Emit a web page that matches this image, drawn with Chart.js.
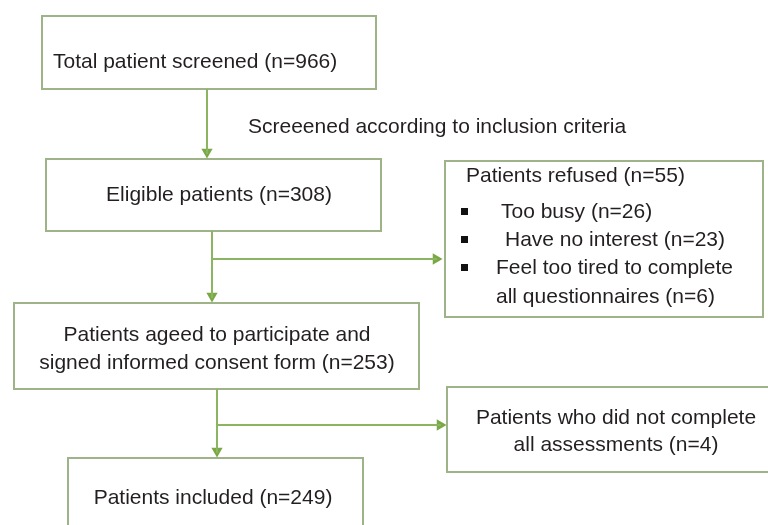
<!DOCTYPE html>
<html>
<head>
<meta charset="utf-8">
<script src="https://cdn.jsdelivr.net/npm/chart.js@4/dist/chart.umd.min.js"></script>
<style>
  html, body { margin: 0; padding: 0; background: #ffffff; }
  canvas { display: block; }
</style>
</head>
<body>
<canvas id="flow" width="768" height="525"></canvas>
<script>
// --- flow data ---------------------------------------------------------
var stageNames = ["Total patient screened", "Eligible patients",
                  "Patients ageed to participate and signed informed consent form",
                  "Patients included"];
var stageCounts = [966, 308, 253, 249];
var refusedCount = 55;
var refusalReasons = ["Too busy", "Have no interest", "Feel too tired to complete all questionnaires"];
var refusalCounts = [26, 23, 6];
var dropoutCount = 4;
var screenNote = "Screeened according to inclusion criteria";

// --- layout (flowchart units, same as the canvas grid) -----------------
var boxes = {
    total:    {l: 42,  t: 16,  r: 376, b: 89},
    eligible: {l: 46,  t: 159, r: 381, b: 231},
    agreed:   {l: 14,  t: 303, r: 419, b: 389},
    included: {l: 68,  t: 458, r: 363, b: 545},
    refused:  {l: 445, t: 161, r: 763, b: 317},
    dropout:  {l: 447, t: 387, r: 780, b: 472}
};

var LINE_COLOR = "#8cb562";
var BOX_COLOR = "#9fb389";
var HEAD_COLOR = "#79a845";
var TEXT_COLOR = "#231f20";
var FONT = "21px 'Liberation Sans', Arial, sans-serif";

function connector(points) {
    return {
        type: "scatter",
        data: points,
        showLine: true,
        borderColor: LINE_COLOR,
        borderWidth: 2,
        pointRadius: 0,
        fill: false
    };
}

function heads(points, rotation) {
    return {
        type: "scatter",
        data: points,
        showLine: false,
        pointStyle: "triangle",
        rotation: rotation,
        pointRadius: 6.5,
        backgroundColor: HEAD_COLOR,
        borderColor: HEAD_COLOR,
        borderWidth: 0
    };
}

var datasets = [
    connector([{x: 207, y: 89}, {x: 207, y: 154}]),
    connector([{x: 212, y: 231}, {x: 212, y: 298}]),
    connector([{x: 212, y: 259}, {x: 437, y: 259}]),
    connector([{x: 217, y: 389}, {x: 217, y: 453}]),
    connector([{x: 217, y: 425}, {x: 441, y: 425}]),
    heads([{x: 207, y: 152}, {x: 212, y: 296}, {x: 217, y: 451}], 180),
    heads([{x: 436, y: 259}, {x: 440, y: 425}], 90)
];

// draws the boxes + their texts on top of the library scales
var flowBoxes = {
    id: "flowBoxes",
    beforeDatasetsDraw: function(chart) {
        var ctx = chart.ctx;
        var sx = chart.scales.x, sy = chart.scales.y;
        var px = function(v) { return sx.getPixelForValue(v); };
        var py = function(v) { return sy.getPixelForValue(v); };

        ctx.save();
        ctx.strokeStyle = BOX_COLOR;
        ctx.lineWidth = 2;
        Object.keys(boxes).forEach(function(k) {
            var b = boxes[k];
            ctx.strokeRect(px(b.l), py(b.t), px(b.r) - px(b.l), py(b.b) - py(b.t));
        });

        ctx.fillStyle = TEXT_COLOR;
        ctx.font = FONT;
        ctx.textBaseline = "middle";

        ctx.textAlign = "left";
        ctx.fillText(stageNames[0] + " (n=" + stageCounts[0] + ")", px(53), py(62));
        ctx.fillText(screenNote, px(248), py(127));

        ctx.textAlign = "center";
        ctx.fillText(stageNames[1] + " (n=" + stageCounts[1] + ")", px(219), py(195));
        ctx.fillText("Patients ageed to participate and", px(217), py(335));
        ctx.fillText("signed informed consent form (n=" + stageCounts[2] + ")", px(217), py(363));
        ctx.fillText(stageNames[3] + " (n=" + stageCounts[3] + ")", px(213), py(498));
        ctx.fillText("Patients who did not complete", px(616), py(418));
        ctx.fillText("all assessments (n=" + dropoutCount + ")", px(616), py(445));

        // refused box: title + bullet list
        ctx.textAlign = "left";
        ctx.fillText("Patients refused (n=" + refusedCount + ")", px(466), py(176));
        var bulletY = [212, 240, 268];
        var textX = [501, 505, 496];
        ctx.fillText(refusalReasons[0] + " (n=" + refusalCounts[0] + ")", px(textX[0]), py(bulletY[0]));
        ctx.fillText(refusalReasons[1] + " (n=" + refusalCounts[1] + ")", px(textX[1]), py(bulletY[1]));
        ctx.fillText("Feel too tired to complete", px(textX[2]), py(bulletY[2]));
        ctx.fillText("all questionnaires (n=" + refusalCounts[2] + ")", px(textX[2]), py(297));
        ctx.fillStyle = "#111111";
        bulletY.forEach(function(v) {
            ctx.fillRect(px(461), py(v) - 4, 7, 7);
        });
        ctx.restore();
    }
};

new Chart(document.getElementById("flow"), {
    type: "scatter",
    data: {datasets: datasets},
    options: {
        responsive: false,
        animation: false,
        devicePixelRatio: 1,
        layout: {padding: 0, autoPadding: false},
        plugins: {legend: {display: false}, tooltip: {enabled: false}},
        scales: {
            x: {type: "linear", min: 0, max: 768, display: false},
            y: {type: "linear", min: 0, max: 525, reverse: true, display: false}
        }
    },
    plugins: [flowBoxes]
});
</script>
</body>
</html>
